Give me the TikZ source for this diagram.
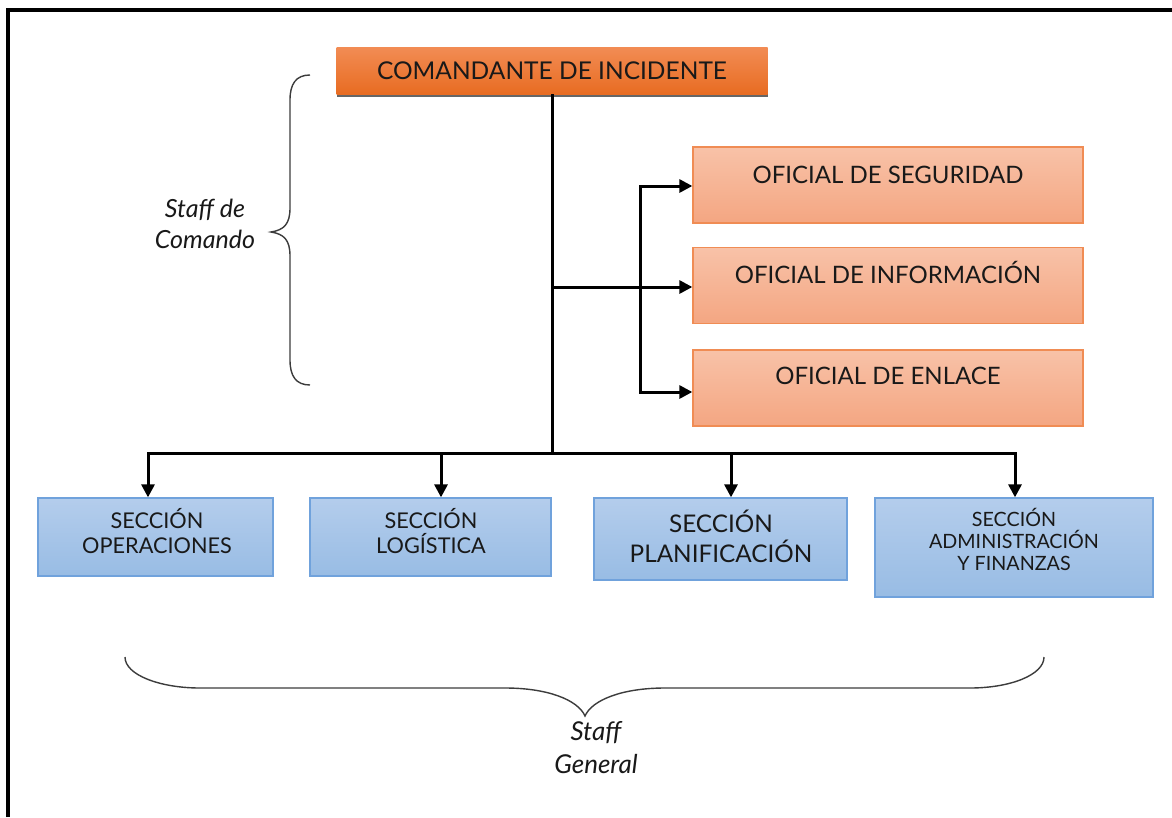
\documentclass[tikz,border=0pt]{standalone}
\usepackage{fontspec}
\setmainfont{Lato}
\usetikzlibrary{arrows.meta,calc}
\definecolor{orT}{RGB}{242,140,84}
\definecolor{orB}{RGB}{232,108,34}
\definecolor{saT}{RGB}{248,194,168}
\definecolor{saB}{RGB}{244,166,130}
\definecolor{saD}{RGB}{240,140,84}
\definecolor{blT}{RGB}{180,205,236}
\definecolor{blB}{RGB}{152,188,228}
\definecolor{blD}{RGB}{112,162,220}
\definecolor{txt}{RGB}{25,25,25}
\definecolor{brc}{RGB}{60,60,60}
\tikzset{
  cmdbox/.style={rectangle, inner sep=0, minimum width=431, minimum height=47,
    top color=orT, bottom color=orB, text=txt,
    preaction={fill=black!60, transform canvas={yshift=-3pt}}},
  offbox/.style={rectangle, inner sep=0, minimum width=390, minimum height=76,
    top color=saT, bottom color=saB, draw=saD, line width=1.3},
  secbox/.style={rectangle, inner sep=0, top color=blT, bottom color=blB,
    draw=blD, line width=1.3},
  lbl/.style={inner sep=0, text=txt, align=center},
  conn/.style={line width=3, black},
  arr/.style={conn, -{Triangle[length=13,width=13]}},
  brace/.style={line width=1.4, brc},
  stafftxt/.style={inner sep=0, align=center, text=txt}
}
\begin{document}
\begin{tikzpicture}[x=1pt,y=-1pt]
\useasboundingbox (0,0) rectangle (1172,817);
\fill[white] (0,0) rectangle (1172,817);
% frame
\draw[line width=4, black] (8,817) -- (8,10) -- (1172,10);

% command box
\node[cmdbox, font=\fontsize{24.5}{28}\selectfont] (cmd) at (552,70.5) {COMANDANTE DE INCIDENTE};

% officer boxes
\node[offbox] (seg) at (888,185) {};
\node[offbox] (inf) at (888,285.5) {};
\node[offbox] (enl) at (888,388) {};
\node[lbl, anchor=base, font=\fontsize{24}{28}\selectfont] (tseg) at (888,183) {OFICIAL DE SEGURIDAD};
\node[lbl, anchor=base, font=\fontsize{24}{28}\selectfont] (tinf) at (888,283) {OFICIAL DE INFORMACIÓN};
\node[lbl, anchor=base, font=\fontsize{24}{28}\selectfont] (tenl) at (888,384) {OFICIAL DE ENLACE};

% section boxes
\node[secbox, minimum width=235, minimum height=78] (ops) at (155.5,537) {};
\node[secbox, minimum width=241, minimum height=78] (log) at (430.5,537) {};
\node[secbox, minimum width=253, minimum height=82] (pla) at (720.5,539) {};
\node[secbox, minimum width=278, minimum height=99] (adm) at (1014,547.5) {};
\node[lbl, anchor=base, font=\fontsize{21.7}{25}\selectfont] (tops) at (157,553) {SECCIÓN\\OPERACIONES};
\node[lbl, anchor=base, font=\fontsize{21.7}{25}\selectfont] (tlog) at (431,553) {SECCIÓN\\LOGÍSTICA};
\node[lbl, anchor=base, font=\fontsize{24.3}{30}\selectfont] (tpla) at (721,562) {SECCIÓN\\PLANIFICACIÓN};
\node[lbl, anchor=base, font=\fontsize{19.7}{21.7}\selectfont] (tadm) at (1014,570) {SECCIÓN\\ADMINISTRACIÓN\\Y FINANZAS};

% connectors
\coordinate (bus) at (552,453);
\coordinate (br) at (552,287);
\coordinate (vb) at (640,287);
\draw[conn] (cmd.south) -- (bus);
\draw[arr] (br) -- (inf.west |- br);
\draw[arr] (vb) |- ([yshift=-1]seg.west);
\draw[arr] (vb) |- ([yshift=-4]enl.west);
\draw[arr] (bus) -| ([xshift=-7.5]ops.north);
\draw[arr] (bus) -| ([xshift=10.5]log.north);
\draw[arr] (bus) -| ([xshift=10.5]pla.north);
\draw[arr] (bus) -| ([xshift=1]adm.north);

% left brace
\draw[brace] (310,75) .. controls (296,75) and (290,84) .. (290,100) -- (290,208)
  .. controls (290,224) and (284,230) .. (271,232)
  .. controls (284,234) and (290,240) .. (290,256) -- (290,360)
  .. controls (290,376) and (296,385) .. (310,385);
\node[stafftxt, anchor=base, font=\itshape\fontsize{25}{31}\selectfont] (sc) at (205,248) {Staff de\\Comando};

% bottom brace
\draw[brace] (125,657) .. controls (125,675) and (160,688) .. (200,688) -- (505,688)
  .. controls (548,688) and (578,700) .. (585,716)
  .. controls (592,700) and (622,688) .. (665,688) -- (970,688)
  .. controls (1010,688) and (1044,675) .. (1044,657);
\node[stafftxt, anchor=base, font=\itshape\fontsize{26}{33}\selectfont] (sg) at (596,773) {Staff\\General};
\end{tikzpicture}
\end{document}
